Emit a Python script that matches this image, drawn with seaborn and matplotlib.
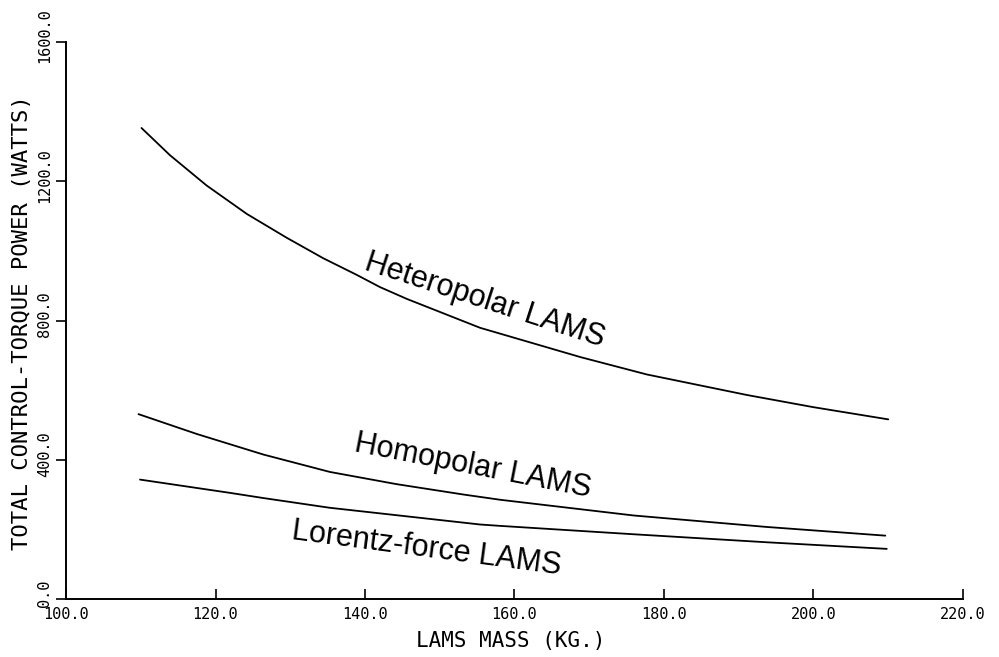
import numpy as np
import pandas as pd
import matplotlib
matplotlib.use('Agg')
import matplotlib.pyplot as plt
import matplotlib.transforms as mtransforms
import seaborn as sns

# Values
hetero_mass = [110.1, 113.9, 118.8, 124.2, 129.5, 134.4, 138.9, 142.0, 145.6,
               155.4, 168.8, 177.7, 191.1, 200.0, 210.0]
hetero_power = [1353, 1275, 1188, 1106, 1038, 979, 931, 896, 862,
                779, 695, 645, 586, 551, 516]

homo_mass = [109.7, 117.5, 126.4, 135.3, 144.2, 153.2, 158.1, 175.9, 193.7, 209.6]
homo_power = [531, 474, 415, 365, 330, 300, 285, 240, 207, 182]

lorentz_mass = [109.9, 121.9, 126.4, 135.3, 155.4, 158.1, 175.9, 193.7, 209.8]
lorentz_power = [343, 305, 290, 262, 214, 210, 186, 163, 144]

x_ticks = [100, 120, 140, 160, 180, 200, 220]
y_ticks = [0, 400, 800, 1200, 1600]

# Build one long table for seaborn
df = pd.concat([
    pd.DataFrame({'mass': hetero_mass, 'power': hetero_power, 'system': 'Heteropolar LAMS'}),
    pd.DataFrame({'mass': homo_mass, 'power': homo_power, 'system': 'Homopolar LAMS'}),
    pd.DataFrame({'mass': lorentz_mass, 'power': lorentz_power, 'system': 'Lorentz-force LAMS'}),
])

sns.set_style('white')
plt.rcParams.update({'text.color': 'black', 'axes.labelcolor': 'black',
                     'xtick.color': 'black', 'ytick.color': 'black'})
mono = 'DejaVu Sans Mono'

fig = plt.figure(figsize=(9.99, 6.57), dpi=100)
ax = fig.add_axes([66 / 999, 1 - 599 / 657, 897 / 999, 557 / 657])

sns.lineplot(data=df, x='mass', y='power', units='system', estimator=None,
             color='black', linewidth=1.3, ax=ax, legend=False)

ax.set_xlim(100, 220)
ax.set_ylim(0, 1600)
ax.set_xticks(x_ticks)
ax.set_yticks(y_ticks)
ax.set_xticklabels([f'{v:.1f}' for v in x_ticks], family=mono, fontsize=11)
ax.set_yticklabels([f'{v:.1f}' for v in y_ticks], family=mono, fontsize=11,
                   rotation=90, va='center')
ax.tick_params(axis='x', bottom=True, direction='in', length=7, width=1.2, pad=6)
ax.tick_params(axis='y', left=True, direction='out', length=7, width=1.2, pad=3)

# y tick labels sit a little above their ticks in the original
shift = mtransforms.ScaledTranslation(0, 6 / 100, fig.dpi_scale_trans)
for lab in ax.get_yticklabels():
    lab.set_transform(lab.get_transform() + shift)

for side in ['top', 'right']:
    ax.spines[side].set_visible(False)
for side in ['left', 'bottom']:
    ax.spines[side].set_linewidth(1.4)
    ax.spines[side].set_color('black')

ax.set_xlabel('LAMS MASS (KG.)', family=mono, fontsize=15)
ax.set_ylabel('TOTAL CONTROL-TORQUE POWER (WATTS)', family=mono, fontsize=16)
ax.xaxis.set_label_coords(0.496, -0.058)
ax.yaxis.set_label_coords(-0.038, 0.497)

# Curve labels, written along the curves
label_font = 'Liberation Sans'
ax.text(156.0, 858, 'Heteropolar LAMS', rotation=-18, fontsize=22,
        family=label_font, ha='center', va='center', rotation_mode='anchor')
ax.text(154.4, 382, 'Homopolar LAMS', rotation=-11, fontsize=22,
        family=label_font, ha='center', va='center', rotation_mode='anchor')
ax.text(148.2, 143, 'Lorentz-force LAMS', rotation=-7.5, fontsize=22,
        family=label_font, ha='center', va='center', rotation_mode='anchor')

fig.savefig('out.png', dpi=100)
